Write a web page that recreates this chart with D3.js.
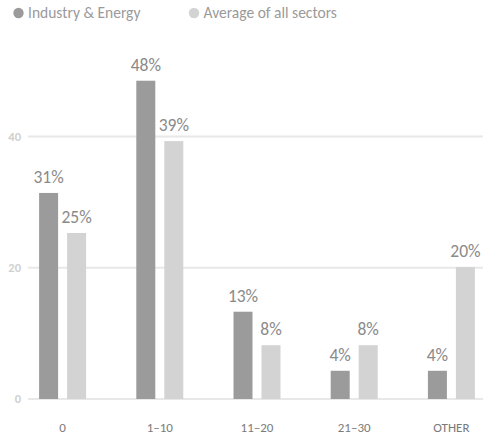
<!DOCTYPE html>
<html><head><meta charset="utf-8">
<script src="https://cdn.jsdelivr.net/npm/d3@7"></script>
<style>body{margin:0;background:#fff;} svg{display:block;font-family:Carlito,Calibri,Lato,sans-serif;}</style>
</head><body>
<svg id="c" width="489" height="434"></svg>
<script>
const categories = ["0", "1\u201310", "11\u201320", "21\u201330", "OTHER"];
const seriesNames = ["Industry & Energy", "Average of all sectors"];
const industry = [31.4, 48.5, 13.3, 4.3, 4.3];
const average = [25.3, 39.3, 8.2, 8.2, 20.1];
const industryLabels = ["31%", "48%", "13%", "4%", "4%"];
const averageLabels = ["25%", "39%", "8%", "8%", "20%"];
const yTicks = [0, 20, 40];
const colors = ["#9b9b9b", "#d3d3d3"];

const svg = d3.select("#c");
const x = d3.scaleBand().domain(categories).range([14, 500]).padding(0);
const y = d3.scaleLinear().domain([0, 40]).range([399, 136.5]);
const barW = 19, gap = 9;

// gridlines
svg.append("g").selectAll("line").data(yTicks).join("line")
  .attr("x1", 28).attr("x2", 483)
  .attr("y1", d => y(d)).attr("y2", d => y(d))
  .attr("stroke", "#e8e8e8").attr("stroke-width", 2);

// y tick labels
svg.append("g").selectAll("text").data(yTicks).join("text")
  .attr("x", 21).attr("y", d => y(d)).attr("dy", "0.35em")
  .attr("text-anchor", "end").attr("fill", "#d0d0d0")
  .attr("font-size", 12.5).attr("font-weight", "bold").text(d => d);

const series = [
  {vals: industry, labels: industryLabels, off: -(gap/2 + barW)},
  {vals: average, labels: averageLabels, off: gap/2}
];
series.forEach((s, si) => {
  const g = svg.append("g");
  g.selectAll("rect").data(categories).join("rect")
    .attr("x", (c) => x(c) + x.bandwidth()/2 + s.off)
    .attr("width", barW)
    .attr("y", (c, i) => y(s.vals[i]))
    .attr("height", (c, i) => y(0) - y(s.vals[i]))
    .attr("fill", colors[si]);
  g.selectAll("text").data(categories).join("text")
    .attr("x", (c) => x(c) + x.bandwidth()/2 + s.off + barW/2)
    .attr("y", (c, i) => y(s.vals[i]) - 10)
    .attr("text-anchor", "middle").attr("fill", "#8a8a8a")
    .attr("font-size", 17.5).text((c, i) => s.labels[i]);
});

// category labels
svg.append("g").selectAll("text").data(categories).join("text")
  .attr("x", c => x(c) + x.bandwidth()/2).attr("y", 427).attr("dy", "0.35em")
  .attr("text-anchor", "middle").attr("fill", "#7a7a7a")
  .attr("font-size", 13).text(c => c);

// legend
const legX = [18.5, 194];
const lg = svg.append("g");
seriesNames.forEach((n, i) => {
  lg.append("circle").attr("cx", legX[i]).attr("cy", 13).attr("r", 5.2).attr("fill", colors[i]);
  lg.append("text").attr("x", legX[i] + 9.5).attr("y", 13).attr("dy", "0.35em")
    .attr("fill", "#9a9a9a").attr("font-size", 15.5).text(n);
});
</script>
</body></html>
